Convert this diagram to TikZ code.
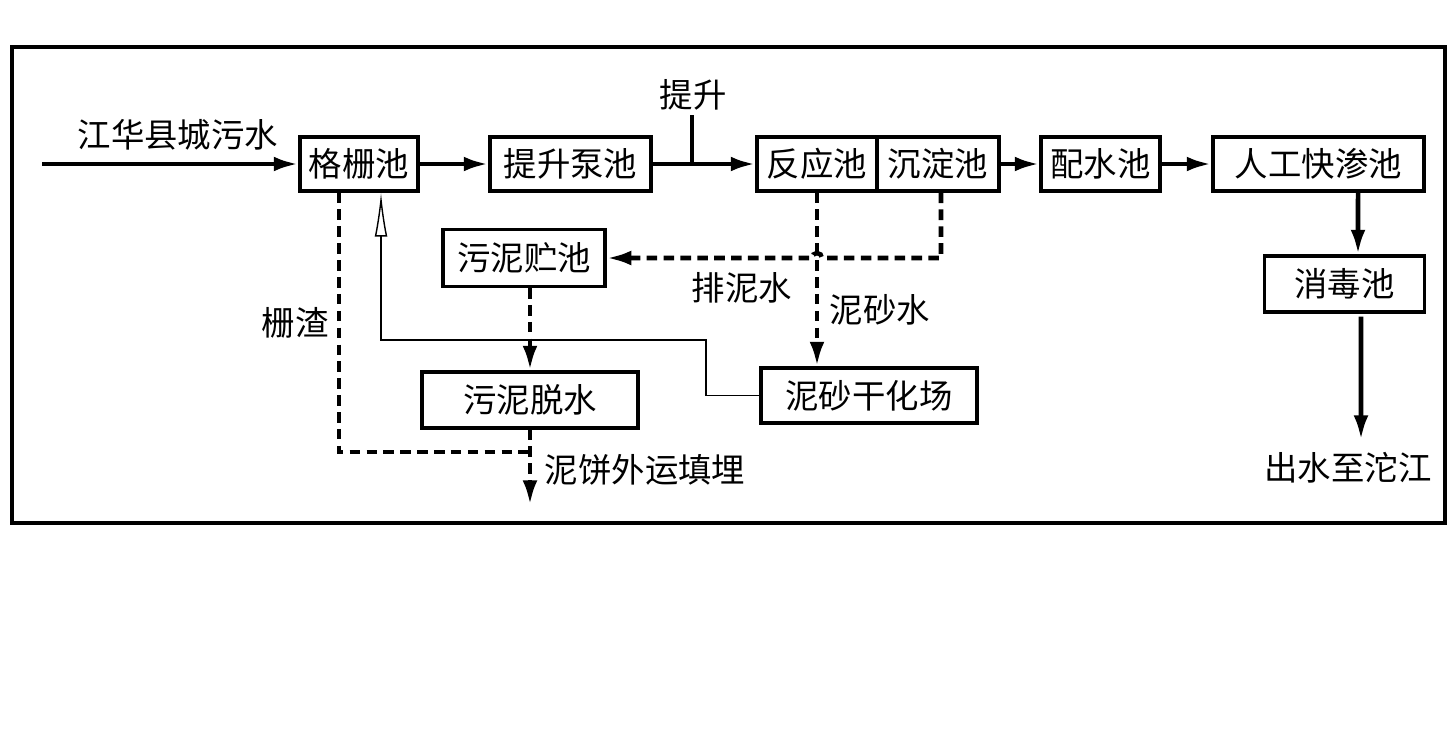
\documentclass[tikz,border=0pt]{standalone}
\usepackage{fontspec}
\setmainfont{Noto Sans CJK SC}
\usetikzlibrary{arrows.meta}

\begin{document}
\begin{tikzpicture}[x=0.01cm,y=-0.01cm,>={Latex[length=7pt,width=4.2pt]},
    box/.style={draw,line width=0.9pt,inner sep=0pt,minimum height=0.54cm,font=\fontsize{9.5}{11}\selectfont},
    flow/.style={line width=1.3pt,->},
    mud/.style={line width=1.3pt,dash pattern=on 3pt off 1.8pt},
    lbl/.style={font=\fontsize{9.5}{11}\selectfont}]
                  \useasboundingbox (0,0) rectangle (1448,736);
                  \draw[line width=0.9pt] (12,47) rectangle (1445,523);
                  % process boxes
                  \node[box,minimum width=1.18cm] (geshan) at (359,164) {格栅池};
                  \node[box,minimum width=1.61cm] (tisheng) at (570.5,164) {提升泵池};
                  \node[box,minimum width=1.20cm] (fanying) at (817,164) {反应池};
                  \node[box,minimum width=1.22cm] (chendian) at (938,164) {沉淀池};
                  \node[box,minimum width=1.19cm] (peishui) at (1100.5,164) {配水池};
                  \node[box,minimum width=2.11cm] (kuaishen) at (1318.5,164) {人工快渗池};
                  \node[box,minimum width=1.60cm,minimum height=0.56cm] (xiaodu) at (1344.5,284) {消毒池};
                  \node[box,minimum width=1.62cm,minimum height=0.57cm] (wunizhu) at (524,258) {污泥贮池};
                  \node[box,minimum width=2.16cm,minimum height=0.56cm] (tuoshui) at (530,400) {污泥脱水};
                  \node[box,minimum width=2.16cm,minimum height=0.55cm] (nisha) at (869,395.5) {泥砂干化场};
                  % free ends
                  \coordinate (inlet) at (42,164);
                  \coordinate (lift) at (692,115);
                  \coordinate (liftfoot) at (692,164);
                  \coordinate (outlet) at (1361,440);
                  \coordinate (jump) at (817,258);
                  \coordinate (cakejoin) at (530,452);
                  \coordinate (cake) at (530,505);
                  \coordinate (backbend) at (706,340);
                  % water line
                  \draw[flow] (inlet) -- (geshan.west);
                  \node[lbl] (inlbl) at (178,135) {江华县城污水};
                  \draw[flow] (geshan) -- (tisheng);
                  \draw[flow] (tisheng) -- (fanying);
                  \draw[line width=1.3pt] (lift) -- (liftfoot);
                  \node[lbl] (liftlbl) at (693,95) {提升};
                  \draw[flow] (chendian) -- (peishui);
                  \draw[flow] (peishui) -- (kuaishen);
                  \draw[flow] ([xshift=0.395cm]kuaishen.south) -- ([xshift=0.135cm]xiaodu.north);
                  \draw[flow] ([xshift=0.165cm,yshift=-0.03cm]xiaodu.south) -- (outlet);
                  \node[lbl] (outlbl) at (1348,468) {出水至沱江};
                  % sludge line
                  \draw[mud,->] ([xshift=0.03cm]chendian.south) |- ([xshift=0.05cm]jump)
                      arc (0:-180:5) -- (wunizhu.east);
                  \node[lbl] (painilbl) at (742,288) {排泥水};
                  \draw[mud,->] (fanying.south) -- (nisha.north -| fanying.south);
                  \node[lbl] (nishalbl) at (880,310) {泥砂水};
                  \draw[mud,->] (wunizhu.south -| tuoshui.north) -- (tuoshui.north);
                  \draw[mud] ([xshift=-0.2cm]geshan.south) |- (cakejoin);
                  \node[lbl] (shanzhalbl) at (295,323) {栅渣};
                  \draw[mud,->] (tuoshui.south) -- (cake);
                  \node[lbl] (cakelbl) at (645,470) {泥饼外运填埋};
                  % return from drying bed
                  \draw[line width=0.4pt,-{Latex[open,length=12.5pt,width=3.6pt]}] (nisha.west) -| (backbend)
                      -| ([xshift=0.22cm]geshan.south);
              \end{tikzpicture}
\end{document}
